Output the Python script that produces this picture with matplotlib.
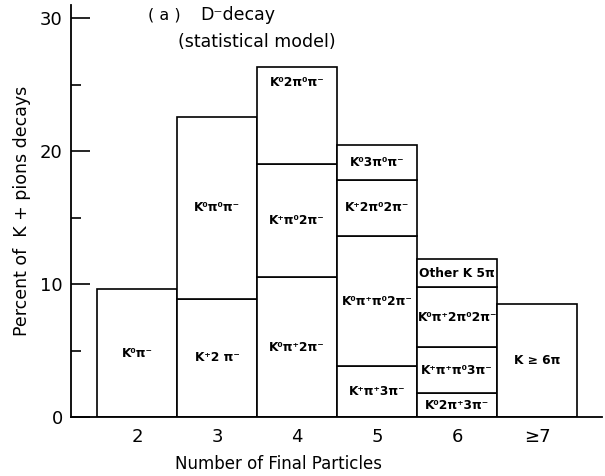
import matplotlib
matplotlib.use("Agg")
import matplotlib.pyplot as plt
import numpy as np

# number of final particles (x categories)
n_final = [2, 3, 4, 5, 6, 7]
tick_labels = ["2", "3", "4", "5", "6", "≥7"]

# stacked channels per bar, bottom to top: (label, percent)
channels = [
    [("K⁰π⁻", 9.6)],
    [("K⁺2 π⁻", 8.9), ("K⁰π⁰π⁻", 13.7)],
    [("K⁰π⁺2π⁻", 10.5), ("K⁺π⁰2π⁻", 8.5), ("K⁰2π⁰π⁻", 7.35)],
    [("K⁺π⁺3π⁻", 3.8), ("K⁰π⁺π⁰2π⁻", 9.8), ("K⁺2π⁰2π⁻", 4.27), ("K⁰3π⁰π⁻", 2.6)],
    [("K⁰2π⁺3π⁻", 1.8), ("K⁺π⁺π⁰3π⁻", 3.45), ("K⁰π⁺2π⁰2π⁻", 4.5), ("Other K 5π", 2.15)],
    [("K ≥ 6π", 8.5)],
]

plt.rcParams['font.family'] = ['DejaVu Sans']

fig = plt.figure(figsize=(6.05, 4.76), dpi=100)
ax = fig.add_axes([71/605, 1 - 417/476, 531/605, 412/476])

for x, stack in zip(n_final, channels):
    bottom = 0.0
    for i, (lab, val) in enumerate(stack):
        ax.bar(x, val, bottom=bottom, width=1.0, facecolor="white",
               edgecolor="black", linewidth=1.2)
        frac = 0.5
        if lab == "K⁰2π⁰π⁻":
            frac = 0.84
        ax.text(x, bottom + frac * val, lab, ha="center", va="center",
                fontsize=8.8, fontweight="bold")
        bottom += val

ax.set_xlim(1.175, 7.81)
ax.set_ylim(0, 31)
ax.spines["top"].set_visible(False)
ax.spines["right"].set_visible(False)
ax.spines["left"].set_linewidth(1.3)
ax.spines["bottom"].set_linewidth(1.3)

ax.set_xticks(n_final)
ax.set_xticklabels(tick_labels, fontsize=13)
ax.tick_params(axis="x", length=0, pad=8)
ax.set_yticks([0, 10, 20, 30])
ax.set_yticks([5, 15, 25], minor=True)
ax.tick_params(axis="y", which="major", direction="in", length=14, width=1.2,
               labelsize=13, pad=6)
ax.tick_params(axis="y", which="minor", direction="in", length=7, width=1.2)

ax.set_ylabel("Percent of  K + pions decays", fontsize=12.5)
ax.yaxis.set_label_coords(-0.076, 0.5)
ax.set_xlabel("Number of Final Particles", fontsize=12)
ax.xaxis.set_label_coords(0.39, -0.093)

fig.text(148/605, 1 - 15/476, "( a )", fontsize=11.5, ha="left", va="center")
fig.text(200/605, 1 - 15/476, "D⁻decay", fontsize=12.5, ha="left", va="center")
fig.text(178/605, 1 - 42/476, "(statistical model)", fontsize=12.5, ha="left", va="center")

fig.savefig("out.png", dpi=100)
